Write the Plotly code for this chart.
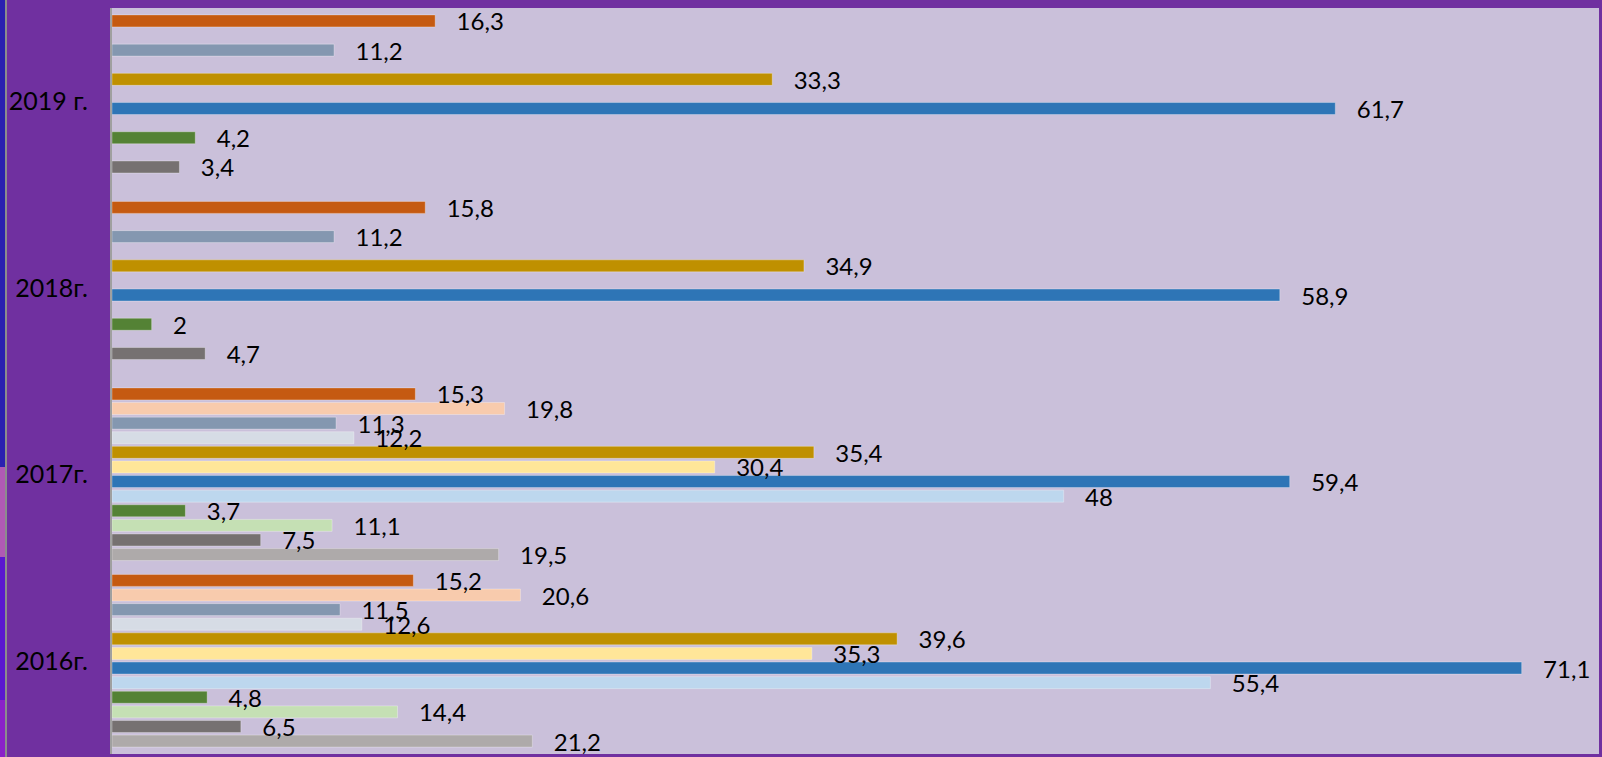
import plotly.graph_objects as go

# Categories (bottom to top)
years = ["2016г.", "2017г.", "2018г.", "2019 г."]

# Series values per year (2016, 2017, 2018, 2019); None = no bar
dark_orange   = [15.2, 15.3, 15.8, 16.3]
light_orange  = [20.6, 19.8, None, None]
gray_blue     = [11.5, 11.3, 11.2, 11.2]
light_gblue   = [12.6, 12.2, None, None]
gold          = [39.6, 35.4, 34.9, 33.3]
light_yellow  = [35.3, 30.4, None, None]
blue          = [71.1, 59.4, 58.9, 61.7]
light_blue    = [55.4, 48, None, None]
green         = [4.8, 3.7, 2, 4.2]
light_green   = [14.4, 11.1, None, None]
dark_gray     = [6.5, 7.5, 4.7, 3.4]
light_gray    = [21.2, 19.5, None, None]

# bottom-to-top order inside each group
series = [
    ("light_gray", light_gray, "#AEAAAA"),
    ("dark_gray", dark_gray, "#767171"),
    ("light_green", light_green, "#C5E0B4"),
    ("green", green, "#548235"),
    ("light_blue", light_blue, "#BDD7EE"),
    ("blue", blue, "#2E75B6"),
    ("light_yellow", light_yellow, "#FFE699"),
    ("gold", gold, "#BF9000"),
    ("light_gblue", light_gblue, "#D6DCE5"),
    ("gray_blue", gray_blue, "#8497B0"),
    ("light_orange", light_orange, "#F8CBAD"),
    ("dark_orange", dark_orange, "#C55A11"),
]

def fmt(v):
    if v is None:
        return ""
    return "\u00a0\u00a0\u00a0" + f"{v:g}".replace(".", ",")

fig = go.Figure()
for name, vals, color in series:
    fig.add_trace(go.Bar(
        y=years, x=vals, name=name, orientation="h",
        marker=dict(color=color, line=dict(color="rgba(255,255,255,0.3)", width=1)),
        text=[fmt(v) for v in vals],
        textposition="outside",
        constraintext="none",
        cliponaxis=False,
        textfont=dict(family="Lato, Carlito, sans-serif", size=24, color="#000000"),
        showlegend=False,
        hoverinfo="skip",
    ))

W, H = 1602, 757
L, R, T, B = 112, 3, 8, 3
pw, ph = W - L - R, H - T - B

def px_y(y_from_top):
    return (H - B - y_from_top) / ph

sx0, sx1 = -L / pw, -(L - 6) / pw
shapes = [
    dict(type="rect", xref="paper", yref="paper", x0=sx0, x1=sx1,
         y0=px_y(467), y1=px_y(0), fillcolor="#2A20B0", line=dict(width=0), layer="below"),
    dict(type="rect", xref="paper", yref="paper", x0=sx0, x1=sx1,
         y0=px_y(557), y1=px_y(467), fillcolor="#B05AB4", line=dict(width=0), layer="below"),
    dict(type="rect", xref="paper", yref="paper", x0=sx0, x1=sx1,
         y0=px_y(700), y1=px_y(557), fillcolor="#5A18D0", line=dict(width=0), layer="below"),
    dict(type="rect", xref="paper", yref="paper", x0=sx0, x1=sx1,
         y0=px_y(757), y1=px_y(700), fillcolor="#8A22C8", line=dict(width=0), layer="below"),
    dict(type="line", xref="paper", yref="paper",
         x0=-(L - 6) / pw, x1=-(L - 6) / pw, y0=px_y(757), y1=px_y(0),
         line=dict(color="#8C8C8C", width=2)),
]

fig.update_layout(
    width=W, height=H,
    margin=dict(l=L, r=R, t=T, b=B, pad=0),
    paper_bgcolor="#7030A0",
    plot_bgcolor="#CAC0DA",
    barmode="group",
    bargap=0.06,
    bargroupgap=0.18,
    separators=", ",
    shapes=shapes,
    xaxis=dict(range=[0, 75], visible=False, showgrid=False, zeroline=False),
    yaxis=dict(
        type="category",
        categoryorder="array", categoryarray=years,
        range=[-0.5, 3.5],
        showgrid=False, zeroline=False,
        showline=True, linecolor="#A0A0A0", linewidth=2,
        ticks="", ticklabelstandoff=17,
        tickfont=dict(family="Lato, Carlito, sans-serif", size=25, color="#000000"),
    ),
)

fig.write_html(
    "out.html",
    config={"displayModeBar": False},
    post_script="document.body.style.margin='0';document.body.style.padding='0';"
                "document.body.style.overflow='hidden';"
                "document.documentElement.style.overflow='hidden';",
)
